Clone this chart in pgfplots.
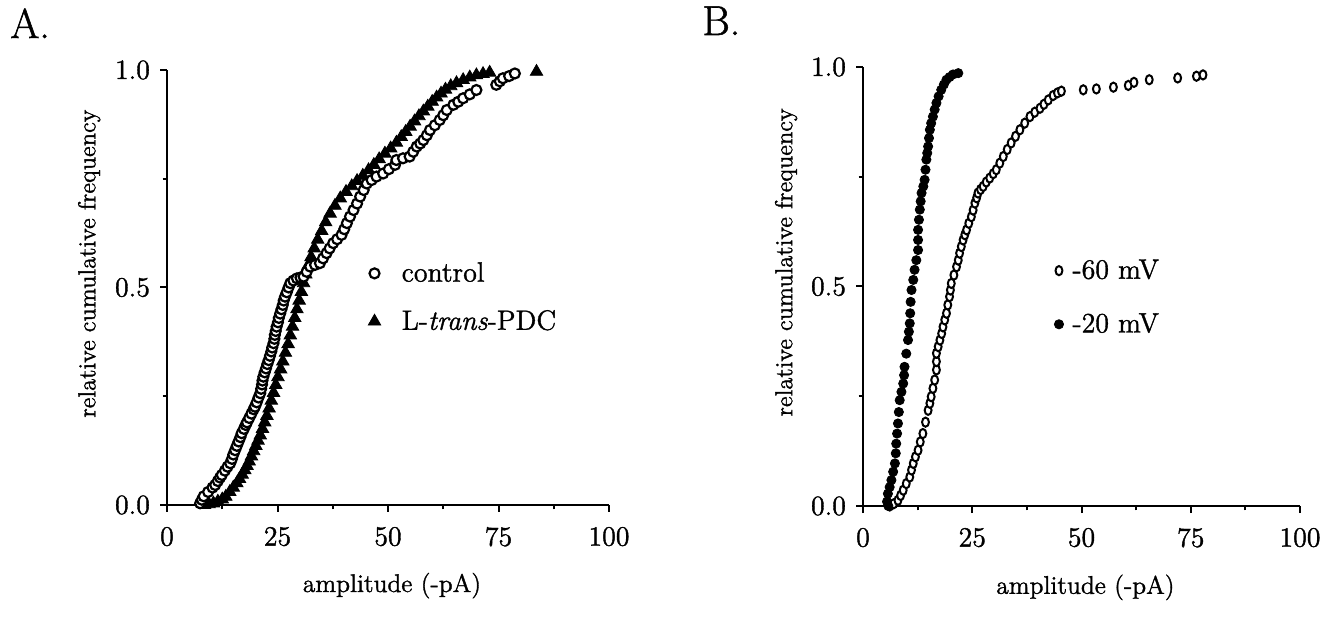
\documentclass[border=0pt]{standalone}
\usepackage{fontspec}
\setmainfont{Latin Modern Roman}[RawFeature={embolden=1.3}]
\usepackage{pgfplots}
\pgfplotsset{compat=1.18}
\pgfplotsset{
  myaxis/.style={
    scale only axis,
    axis x line*=bottom, axis y line*=left,
    xmin=0, xmax=100, ymin=0, ymax=1,
    xtick={0,25,50,75,100}, ytick={0,0.5,1},
    minor x tick num=1, minor y tick num=1,
    tick align=outside, major tick length=3.5bp, minor tick length=2.2bp,
    axis line style={line width=1bp},
    every tick/.style={line width=1bp, black},
    /pgf/number format/assume math mode=true,
    yticklabel style={/pgf/number format/fixed, /pgf/number format/fixed zerofill, /pgf/number format/precision=1, xshift=-1.5bp},
    ticklabel style={font=\fontsize{14}{16}\selectfont},
    xticklabel style={yshift=-4bp},
    xlabel style={font=\fontsize{12.8}{15}\selectfont, at={(axis description cs:0.509,-0.2)}, anchor=base},
    ylabel style={font=\fontsize{12.3}{15}\selectfont, at={(axis description cs:-0.176,0.555)}, anchor=center},
    xlabel={amplitude (-pA)},
    ylabel={relative cumulative frequency},
    clip=false,
    legend style={draw=none, fill=none, inner sep=0pt,
      nodes={inner sep=0pt, anchor=west, font=\fontsize{14}{16}\selectfont},
      legend cell align=left},
  }
}
\begin{document}
\begin{tikzpicture}
\useasboundingbox (0,0) rectangle (668.5bp,309bp);
\node[anchor=base west, font=\fontsize{21}{23}\selectfont, inner sep=0pt] at (5bp,290bp) {A.};
\node[anchor=base west, font=\fontsize{21}{23}\selectfont, inner sep=0pt] at (351bp,291.5bp) {B.};
% Panel A
\begin{axis}[myaxis, at={(83.5bp,56.5bp)}, anchor=south west, width=221bp, height=217.5bp,
  reverse legend,
  legend style={at={(axis cs:45.45,0.477)}, anchor=west, column sep=10.5bp, row sep=12.8bp}]
\addplot[only marks, mark=triangle*, mark size=3.6bp, mark options={fill=black, draw=black}] coordinates {
(8.5,0.000)(9.5,0.002)(10.5,0.004)(11.5,0.008)(12.5,0.013)(13.3,0.019)(14.2,0.030)(15.0,0.040)(15.8,0.050)(16.4,0.060)
(17.0,0.070)(17.6,0.080)(18.1,0.090)(18.6,0.100)(19.1,0.112)(19.6,0.124)(20.1,0.136)(20.6,0.148)(21.1,0.160)(21.6,0.175)
(22.1,0.190)(22.6,0.205)(23.1,0.222)(23.6,0.240)(24.1,0.258)(24.6,0.276)(25.1,0.294)(25.7,0.312)(26.2,0.330)(26.8,0.350)
(27.4,0.370)(27.9,0.390)(28.4,0.410)(28.9,0.430)(29.4,0.450)(29.9,0.470)(30.4,0.490)(30.9,0.510)(31.4,0.530)(31.9,0.550)
(32.6,0.570)(33.3,0.590)(34.1,0.610)(35.0,0.630)(35.9,0.650)(36.9,0.670)(38.0,0.688)(39.2,0.705)(40.5,0.720)(41.8,0.733)
(43.0,0.745)(44.3,0.757)(45.6,0.770)(46.8,0.782)(48.0,0.795)(49.3,0.808)(50.6,0.820)(51.9,0.833)(53.0,0.846)(54.0,0.858)
(55.0,0.870)(56.0,0.882)(57.0,0.894)(58.0,0.905)(59.0,0.916)(60.0,0.927)(61.0,0.937)(62.0,0.946)(63.0,0.955)(64.2,0.963)
(65.5,0.970)(67.0,0.977)(68.5,0.983)(70.0,0.988)(71.5,0.991)(73.0,0.994)(83.6,0.996)
};
\addlegendentry{L-\textit{trans}-PDC}
\addplot[only marks, mark=*, mark size=2.5bp, mark options={fill=white, draw=black, line width=1.1bp}] coordinates {
(7.5,0.004)(7.9,0.012)(8.3,0.020)(9.3,0.030)(10.3,0.040)(10.9,0.046)(11.5,0.055)(12.0,0.063)(12.4,0.069)(13.1,0.079)
(13.7,0.088)(14.3,0.096)(14.7,0.106)(15.0,0.116)(15.4,0.126)(15.8,0.136)(16.2,0.146)(16.6,0.156)(16.9,0.165)(17.4,0.175)
(17.8,0.184)(18.1,0.190)(18.6,0.200)(19.1,0.210)(19.6,0.220)(19.9,0.226)(20.3,0.236)(20.7,0.247)(21.1,0.257)(21.3,0.267)
(21.5,0.277)(21.6,0.286)(21.8,0.295)(22.1,0.305)(22.4,0.314)(22.7,0.324)(23.0,0.333)(23.3,0.343)(23.6,0.353)(23.8,0.362)
(24.1,0.372)(24.3,0.382)(24.4,0.391)(24.6,0.400)(24.8,0.410)(25.1,0.420)(25.3,0.430)(25.6,0.440)(25.9,0.450)(26.2,0.460)
(26.4,0.470)(26.7,0.479)(27.1,0.489)(27.5,0.500)(27.9,0.510)(28.6,0.516)(29.4,0.521)(30.2,0.523)(30.9,0.525)(31.6,0.536)
(32.4,0.548)(33.5,0.552)(34.6,0.556)(35.3,0.567)(36.1,0.579)(36.8,0.590)(37.6,0.602)(38.5,0.611)(39.5,0.621)(40.1,0.634)
(40.7,0.648)(41.4,0.663)(42.2,0.678)(43.0,0.693)(43.7,0.709)(44.5,0.724)(45.2,0.739)(46.3,0.747)(47.4,0.755)(48.9,0.762)
(50.2,0.772)(51.6,0.782)(51.9,0.793)(53.4,0.797)(54.9,0.801)(55.7,0.812)(56.5,0.824)(57.3,0.831)(58.0,0.839)(58.8,0.850)
(59.5,0.862)(60.6,0.873)(61.7,0.885)(62.5,0.896)(63.3,0.908)(64.8,0.920)(65.9,0.927)(67.0,0.935)(68.5,0.944)(70.0,0.954)
(74.5,0.966)(75.3,0.974)(76.0,0.981)(77.4,0.986)(78.7,0.992)
};
\addlegendentry{control}
\end{axis}
% Panel B
\begin{axis}[myaxis, at={(431.5bp,56bp)}, anchor=south west, width=218.5bp, height=219.5bp,
  legend style={at={(axis cs:43.7,0.475)}, anchor=west, column sep=4.5bp, row sep=15.8bp}]
\addplot[only marks, mark=*, mark size=2.3bp, mark options={fill=white, draw=black, line width=1bp, xscale=0.75}] coordinates {
(6.1,0.000)(7.0,0.005)(8.0,0.013)(8.6,0.024)(9.2,0.036)(9.9,0.051)(10.7,0.066)(11.1,0.082)(11.5,0.097)(12.0,0.112)
(12.6,0.127)(13.1,0.146)(13.7,0.165)(14.3,0.191)(14.9,0.218)(15.3,0.234)(15.6,0.249)(16.0,0.268)(16.4,0.287)(16.8,0.310)
(16.8,0.329)(16.8,0.348)(17.2,0.363)(17.6,0.378)(18.0,0.393)(18.3,0.408)(18.7,0.424)(19.1,0.439)(19.4,0.458)(19.8,0.477)
(20.0,0.492)(20.2,0.507)(20.8,0.526)(21.4,0.545)(21.8,0.560)(22.1,0.576)(22.5,0.591)(22.9,0.606)(23.3,0.618)(23.7,0.629)
(24.2,0.644)(24.8,0.659)(25.2,0.674)(25.6,0.690)(26.0,0.702)(26.3,0.713)(26.9,0.721)(27.5,0.728)(28.2,0.738)(29.0,0.747)
(29.8,0.757)(30.5,0.766)(31.3,0.781)(32.1,0.796)(33.0,0.812)(33.9,0.827)(34.9,0.842)(35.9,0.857)(37.0,0.872)(38.2,0.887)
(39.3,0.897)(40.5,0.906)(41.4,0.915)(42.4,0.925)(43.5,0.935)(44.5,0.941)(45.4,0.945)(50.4,0.948)(53.4,0.950)(57.3,0.954)
(60.7,0.958)(62.0,0.965)(65.5,0.971)(72.0,0.975)(76.3,0.979)(77.8,0.982)
};
\addlegendentry{-60 mV}
\addplot[only marks, mark=*, mark size=2.3bp, mark options={fill=black, draw=black}] coordinates {
(5.8,0.000)(5.5,0.010)(5.7,0.028)(6.1,0.043)(6.5,0.059)(6.9,0.078)(7.3,0.097)(7.5,0.120)(7.6,0.142)(7.8,0.165)
(8.0,0.188)(8.2,0.214)(8.4,0.241)(8.8,0.260)(9.2,0.279)(9.4,0.298)(9.5,0.317)(9.9,0.347)(10.3,0.378)(10.5,0.397)
(10.7,0.416)(10.8,0.439)(10.9,0.465)(11.1,0.492)(11.5,0.515)(11.8,0.538)(12.2,0.560)(12.6,0.583)(12.6,0.606)(12.6,0.629)
(12.8,0.652)(13.0,0.675)(13.2,0.694)(13.4,0.713)(13.8,0.728)(14.1,0.743)(14.3,0.766)(14.5,0.789)(14.7,0.804)(14.9,0.819)
(15.1,0.838)(15.3,0.857)(15.6,0.872)(16.0,0.887)(16.4,0.903)(16.8,0.918)(17.3,0.933)(17.9,0.948)(18.5,0.960)(19.1,0.971)
(19.8,0.977)(20.6,0.983)(21.8,0.986)
};
\addlegendentry{-20 mV}
\end{axis}
\end{tikzpicture}
\end{document}
